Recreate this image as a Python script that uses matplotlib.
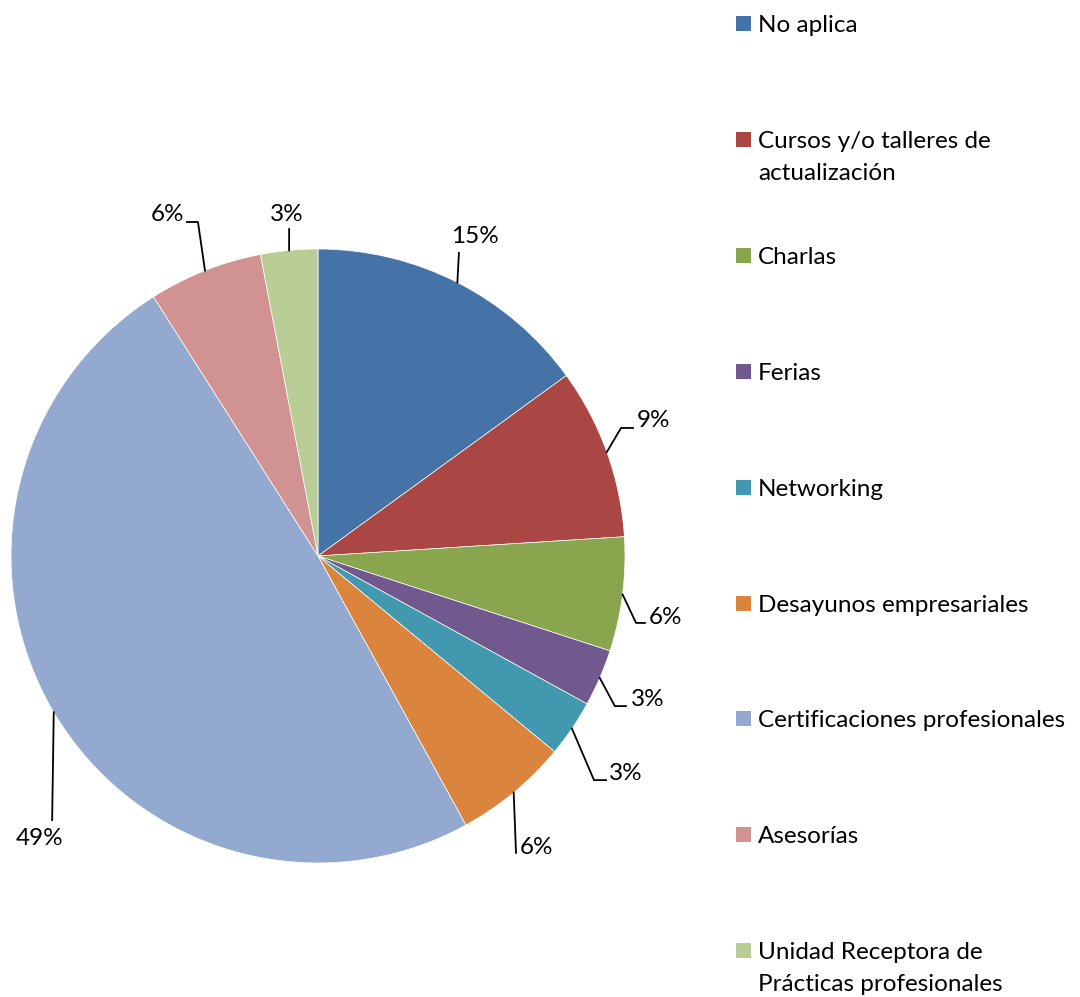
import matplotlib
matplotlib.use('Agg')
import matplotlib.pyplot as plt
from matplotlib.patches import Rectangle
import numpy as np

plt.rcParams['font.family'] = ['Lato', 'DejaVu Sans']

# Data
categories = ['No aplica', 'Cursos y/o talleres de\nactualización', 'Charlas', 'Ferias',
              'Networking', 'Desayunos empresariales', 'Certificaciones profesionales',
              'Asesorías', 'Unidad Receptora de\nPrácticas profesionales']
shares = [15, 9, 6, 3, 3, 6, 49, 6, 3]
pct_labels = ['15%', '9%', '6%', '3%', '3%', '6%', '49%', '6%', '3%']
colors = ['#4572A7', '#AA4643', '#89A54E', '#71588F', '#4198AF',
          '#DB843D', '#93A9CF', '#D19392', '#B9CD96']

W, H = 1080, 997
fig = plt.figure(figsize=(W / 100, H / 100), dpi=100)
# pie centre at (318, 556) px, radius 307 px
ax = fig.add_axes([11 / W, (H - 556 - 307) / H, 614 / W, 614 / H])
wedges, _ = ax.pie(shares, colors=colors, startangle=90, counterclock=False,
                   wedgeprops=dict(edgecolor='white', linewidth=0.5))
ax.set_xlim(-1, 1)
ax.set_ylim(-1, 1)
ax.axis('off')

# label layout: leader points after the edge point, text position, alignment
leaders = [
    ([(0.459, 0.987)], (0.511, 1.040), 'center'),
    ([(0.987, 0.417), (1.026, 0.417)], (1.037, 0.440), 'left'),
    ([(1.036, -0.218), (1.065, -0.218)], (1.078, -0.199), 'left'),
    ([(0.967, -0.489), (1.003, -0.489)], (1.020, -0.469), 'left'),
    ([(0.899, -0.730), (0.938, -0.730)], (0.948, -0.707), 'left'),
    ([(0.645, -0.967)], (0.658, -0.948), 'left'),
    ([(-0.866, -0.860)], (-0.906, -0.919), 'center'),
    ([(-0.391, 1.088), (-0.427, 1.088)], (-0.437, 1.114), 'right'),
    ([(-0.094, 1.065)], (-0.101, 1.114), 'center'),
]

for w, lab, (pts, txy, ha) in zip(wedges, pct_labels, leaders):
    mid = np.deg2rad((w.theta1 + w.theta2) / 2)
    xs = [np.cos(mid)] + [p[0] for p in pts]
    ys = [np.sin(mid)] + [p[1] for p in pts]
    ax.plot(xs, ys, color='black', linewidth=1.3, clip_on=False)
    ax.text(txy[0], txy[1], lab, ha=ha, va='center', fontsize=17.5, clip_on=False)

# legend on the right, drawn by hand to keep Excel's spacing
for i, (cat, col) in enumerate(zip(categories, colors)):
    yc = 24 + i * 115.8
    fig.patches.append(Rectangle((736 / W, 1 - (yc + 7.5) / H), 15 / W, 15 / H,
                                 transform=fig.transFigure, facecolor=col, edgecolor='none'))
    for k, line in enumerate(cat.split('\n')):
        fig.text(758 / W, 1 - (yc + 2 + k * 32) / H, line, ha='left', va='center',
                 fontsize=17.5)

fig.savefig('out.png', dpi=100)
